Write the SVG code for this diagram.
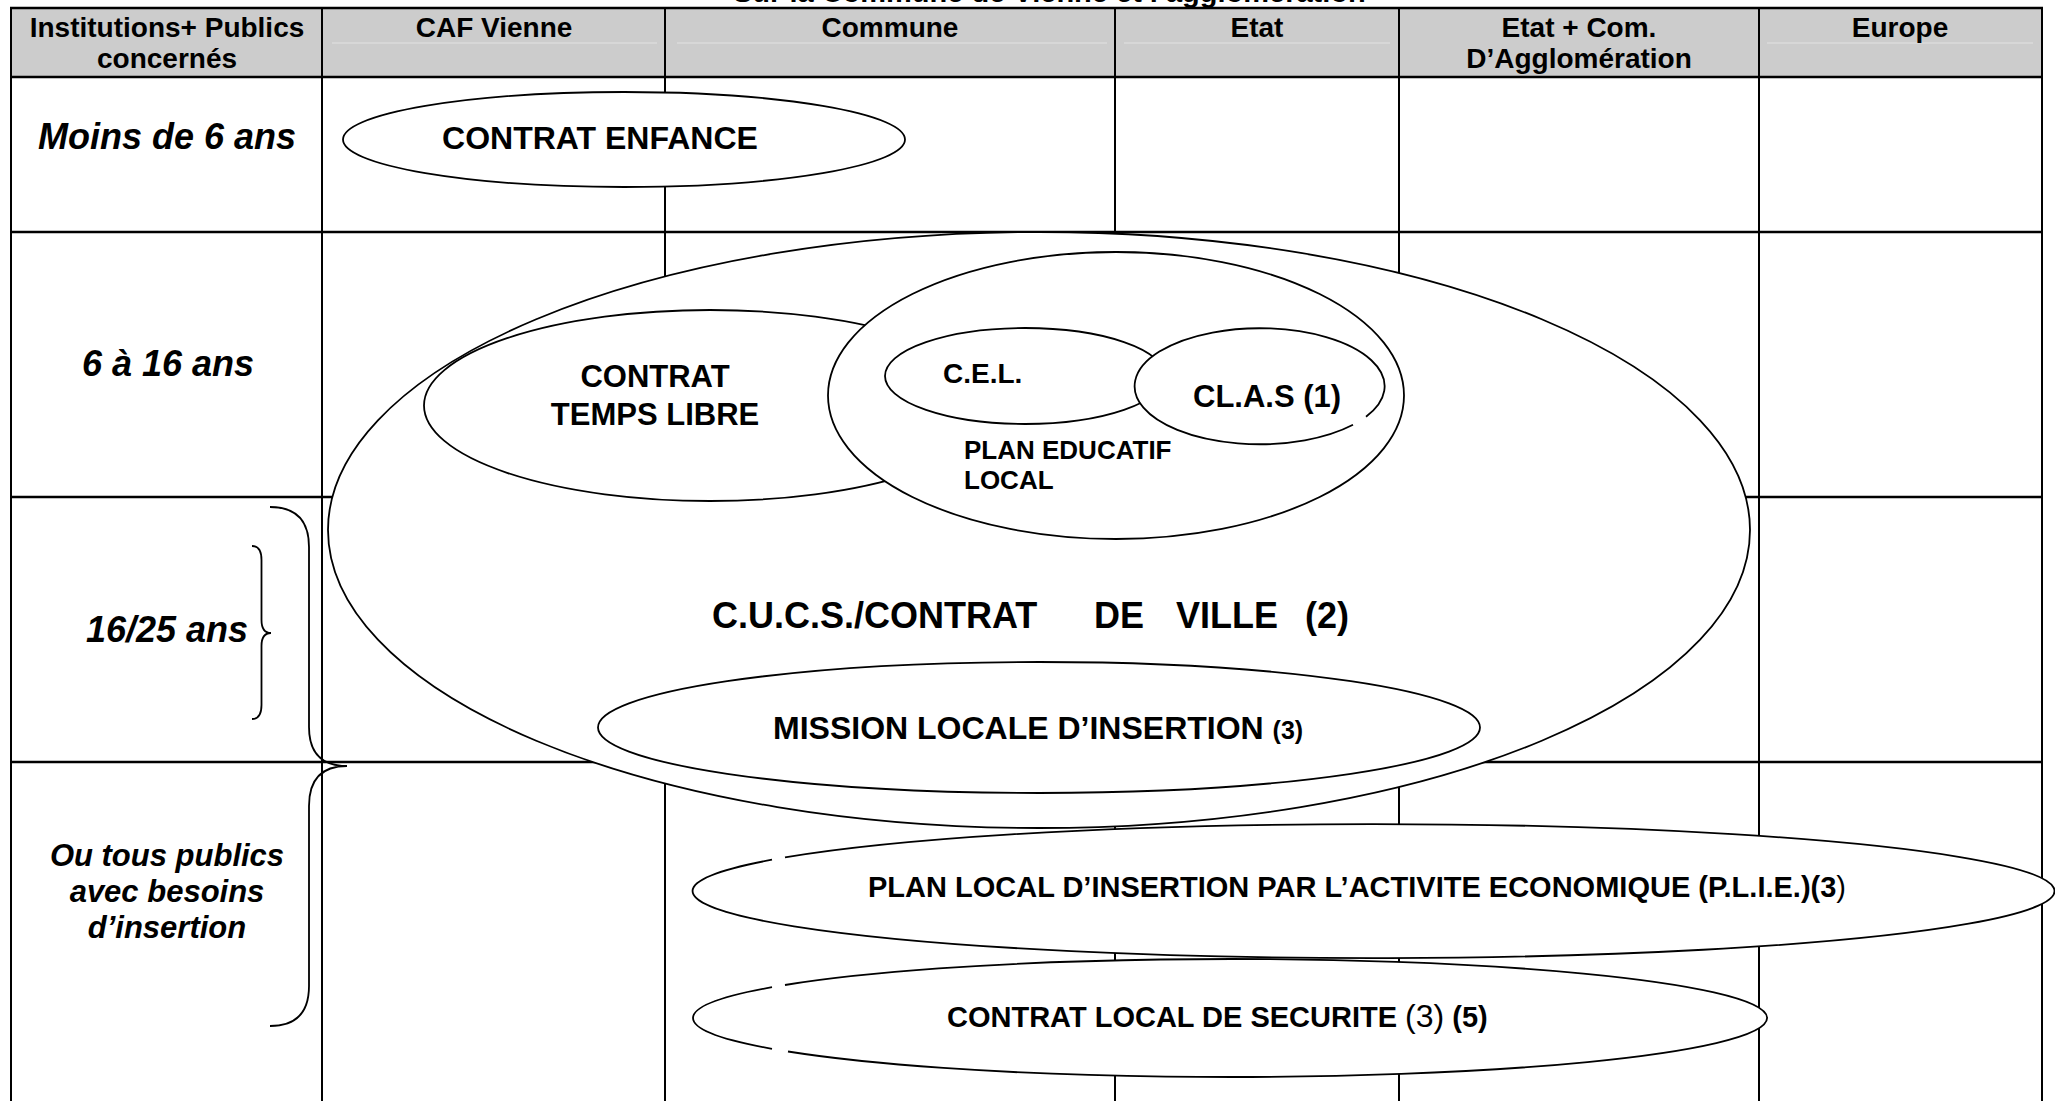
<svg xmlns="http://www.w3.org/2000/svg" width="2055" height="1101" viewBox="0 0 2055 1101">
<style>
text { font-family: "Liberation Sans", Arial, sans-serif; fill: #000; }
.h { font-size: 28px; font-weight: bold; text-anchor: middle; }
.age { font-size: 36px; font-weight: bold; font-style: italic; text-anchor: middle; }
.age2 { font-size: 31px; font-weight: bold; font-style: italic; text-anchor: middle; }
.vl { stroke: #000; stroke-width: 2; }
.hl { stroke: #000; stroke-width: 2.6; }
.faint { stroke: #e2e2e2; stroke-width: 1.2; }
.ov { fill: #fff; stroke: #000; stroke-width: 1.8; }
.fillonly { fill: #fff; stroke: none; }
.outline { fill: none; stroke: #000; stroke-width: 1.8; }
.b { font-weight: bold; }
.brace { fill: none; stroke: #000; stroke-width: 1.8; }
</style>
<rect width="2055" height="1101" fill="#fff"/>
<text id="title" x="733" y="1.5" font-size="29" class="b">Sur la Commune de Vienne et l’agglomération</text>

<g id="table">
  <rect x="11" y="8" width="2031" height="69" fill="#cccccc"/>
  <line class="faint" x1="332" y1="43" x2="657" y2="43"/>
  <line class="faint" x1="677" y1="43" x2="1107" y2="43"/>
  <line class="faint" x1="1124" y1="43" x2="1390" y2="43"/>
  <line class="faint" x1="1767" y1="43" x2="2033" y2="43"/>
  <line class="vl" x1="11" y1="8" x2="11" y2="1101"/>
  <line class="vl" x1="322" y1="8" x2="322" y2="1101"/>
  <line class="vl" x1="665" y1="8" x2="665" y2="1101"/>
  <line class="vl" x1="1115" y1="8" x2="1115" y2="1101"/>
  <line class="vl" x1="1399" y1="8" x2="1399" y2="1101"/>
  <line class="vl" x1="1759" y1="8" x2="1759" y2="1101"/>
  <line class="vl" x1="2042" y1="8" x2="2042" y2="1101"/>
  <line class="hl" x1="10" y1="8" x2="2043" y2="8"/>
  <line class="hl" x1="10" y1="77" x2="2043" y2="77"/>
  <line class="hl" x1="10" y1="232" x2="2043" y2="232"/>
  <line class="hl" x1="10" y1="497" x2="2043" y2="497"/>
  <line class="hl" x1="10" y1="762" x2="2043" y2="762"/>
  <text class="h" x="167" y="37">Institutions+ Publics</text>
  <text class="h" x="167" y="68">concernés</text>
  <text class="h" x="494" y="37">CAF Vienne</text>
  <text class="h" x="890" y="37">Commune</text>
  <text class="h" x="1257" y="37">Etat</text>
  <text class="h" x="1579" y="37">Etat + Com.</text>
  <text class="h" x="1579" y="68">D’Agglomération</text>
  <text class="h" x="1900" y="37">Europe</text>
  <text class="age" x="167" y="149">Moins de 6 ans</text>
  <text class="age" x="168" y="376">6 à 16 ans</text>
  <text class="age" x="167" y="642">16/25 ans</text>
  <text class="age2" x="167" y="866">Ou tous publics</text>
  <text class="age2" x="167" y="902">avec besoins</text>
  <text class="age2" x="167" y="938">d’insertion</text>
  <path class="brace" d="M252 546 Q261.5 546 261.5 560 L261.5 620 Q261.5 633 271 633 Q261.5 633 261.5 646 L261.5 705 Q261.5 719 252 719"/>
  <path class="brace" d="M270 507 Q309 507 309 547 L309 727 Q309 766 347 766 Q309 766 309 806 L309 986 Q309 1026 270 1026"/>
</g>

<g id="contrat-enfance">
  <ellipse class="ov" cx="624" cy="139.5" rx="281" ry="47.5"/>
  <text class="b" x="600" y="149" font-size="32" text-anchor="middle">CONTRAT ENFANCE</text>
</g>

<g id="cucs">
  <ellipse class="ov" cx="1039" cy="530" rx="711" ry="298"/>
  <text class="b" y="628" font-size="36"><tspan x="712">C.U.C.S./CONTRAT </tspan><tspan x="1094">DE </tspan><tspan x="1176">VILLE </tspan><tspan x="1305">(2)</tspan></text>
</g>

<g id="contrat-temps-libre">
  <ellipse class="ov" cx="710" cy="405.5" rx="286" ry="95.5"/>
  <text class="b" x="655" y="387" font-size="31" text-anchor="middle">CONTRAT</text>
  <text class="b" x="655" y="425" font-size="31" text-anchor="middle">TEMPS LIBRE</text>
</g>

<g id="plan-educatif-local">
  <ellipse class="ov" cx="1116" cy="395.5" rx="288" ry="143.5"/>
  <text class="b" x="964" y="459" font-size="26">PLAN EDUCATIF</text>
  <text class="b" x="964" y="489" font-size="26">LOCAL</text>
</g>

<g id="cel">
  <ellipse class="ov" cx="1025" cy="376" rx="140" ry="48"/>
  <text class="b" x="943" y="383" font-size="28">C.E.L.</text>
</g>

<g id="clas">
  <ellipse class="fillonly" cx="1260" cy="386" rx="125" ry="58"/>
  <path class="outline" d="M1366 416.7 A125 58 0 1 0 1353 424.8"/>
  <text class="b" x="1193" y="407" font-size="31">CL.A.S (1)</text>
</g>

<g id="mission-locale">
  <ellipse class="ov" cx="1039" cy="727.5" rx="441" ry="65.5"/>
  <text class="b" x="773" y="739" font-size="32">MISSION LOCALE D’INSERTION <tspan font-size="25">(3)</tspan></text>
</g>

<g id="plie">
  <ellipse class="fillonly" cx="1374" cy="891" rx="681" ry="67"/>
  <path class="outline" d="M785 857.4 A681 67 0 1 1 772 859.7"/>
  <text class="b" x="868" y="897" font-size="29">PLAN LOCAL D’INSERTION PAR L’ACTIVITE ECONOMIQUE (P.L.I.E.)(3<tspan font-weight="normal">)</tspan></text>
</g>

<g id="contrat-local-securite">
  <ellipse class="fillonly" cx="1230" cy="1018" rx="537" ry="59"/>
  <path class="outline" d="M785 985 A537 59 0 1 1 788 1051.5 M772 1048.8 A537 59 0 0 1 772 987.2"/>
  <text class="b" x="947" y="1027" font-size="29">CONTRAT LOCAL DE SECURITE <tspan font-weight="normal" font-size="32">(3)</tspan> (5)</text>
</g>

<g id="connectors"/>
</svg>
